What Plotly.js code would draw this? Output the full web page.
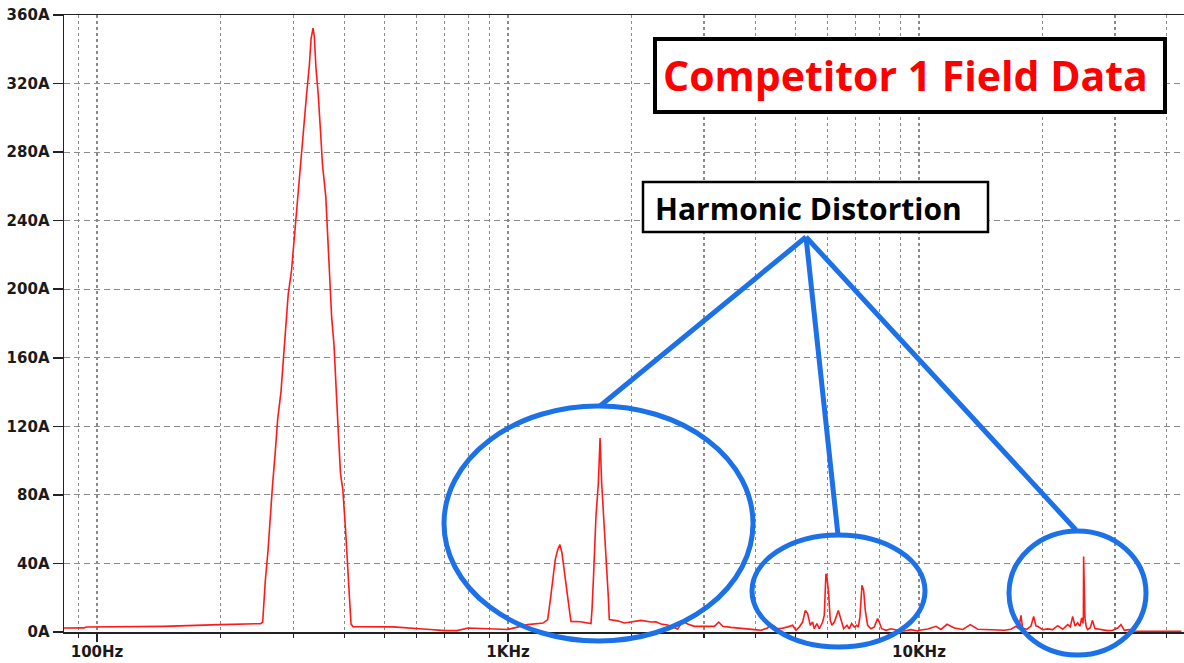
<!DOCTYPE html>
<html>
<head>
<meta charset="utf-8">
<script src="https://cdn.plot.ly/plotly-3.0.1.min.js"></script>
<style>html,body{margin:0;padding:0;background:#fff;}#chart{width:1184px;height:663px;}</style>
</head>
<body>
<div id="chart"></div>
<script>
// Frequency (Hz) and current amplitude (A)
const freqHz = [
  83, 93, 94, 145, 199, 250,
  253.0, 256.7, 260.5, 263.9, 267.3, 271.2, 275.2, 280.3, 283.9, 287.6, 291.9, 297.3, 301.7, 305.6, 309.5, 314.1, 318.8, 323.4, 328.8, 331.8, 335.5,
  337.9, 341.0, 345.5, 350.6, 353.8, 360.3, 365.0, 369.1, 372.4, 377.3, 382.1, 386.3, 391.3, 396.4, 402.3, 405.9, 411.2, 415.0,
  420, 525, 634, 703, 751, 800, 1000, 1117, 1217,
  1249, 1268, 1284, 1303, 1321, 1338, 1353, 1371, 1392, 1410, 1423, 1500, 1592,
  1601, 1616, 1637, 1659, 1675, 1690, 1709, 1731, 1754, 1764,
  1849, 1919, 2018, 2107, 2228, 2292, 2357, 2446, 2587, 2661, 2736, 2840, 3015, 3177, 3256, 3330, 3488, 3689, 3975,
  4127, 4283, 4346, 4420, 4520, 4615, 4800, 4927, 5020, 5114, 5210, 5289, 5358, 5439, 5510, 5562, 5645, 5720, 5828, 5882,
  5937, 5971, 6027, 6083, 6140, 6223, 6364, 6460, 6557, 6679, 6767, 6856, 6960, 7052, 7117, 7183, 7265, 7334, 7402, 7499,
  7640, 7784, 7930, 8005, 8111, 8313, 8550, 8873, 9211, 9562, 9926,
  10113, 10498, 11000, 11311, 11700, 12190, 12775, 13335, 13895, 14694, 15395, 16129, 16740, 17218, 17477, 17706, 17870,
  18311, 18726, 19011, 19262, 19440, 19991, 20560, 21144, 21751, 22370, 23002, 23348, 23652, 23965, 24325, 24641, 24874,
  25058, 25120, 25150, 25200, 25280, 25340, 25527, 25717, 26100, 26441, 26790, 27194, 27967, 28765, 29594, 30442, 31012,
  31597, 32490, 33416, 34688, 36688, 38800, 41034, 43500
];
const ampA = [
  2.3, 2.4, 2.9, 3.3, 4.3, 4.9,
  5.7, 29.6, 46.7, 67.2, 85.4, 103.6, 124.2, 140.1, 158.3, 178.8, 197.0, 210.7, 228.9, 244.9, 263.1, 279.1, 295.0, 313.2, 331.4, 346.3, 352.4,
  347.4, 329.2, 313.2, 288.2, 272.2, 254.0, 228.9, 208.4, 183.4, 167.4, 137.8, 117.3, 92.3, 83.1, 60.4, 42.1, 23.9, 4.6,
  3.1, 3.0, 1.6, 0.8, 0.8, 2.3, 1.5, 4.3, 5.2,
  7.2, 18.9, 30.5, 42.2, 48.0, 51.0, 46.1, 34.4, 20.8, 13.0, 6.2, 6.0, 4.9,
  13.0, 34.4, 67.5, 86.9, 113.2, 86.9, 67.5, 50.0, 20.8, 7.2,
  6.5, 5.3, 6.2, 6.8, 5.8, 6.0, 4.7, 4.1, 1.75, 6.2, 4.7, 3.3, 3.3, 3.3, 5.8, 3.3, 2.7, 2.3, 1.4,
  1.0, 2.3, 4.5, 3.8, 2.0, 2.0, 3.0, 3.9, 1.0, 2.9, 5.8, 12.6, 10.7, 3.9, 5.8, 1.9, 4.9, 1.9, 5.8, 9.7,
  34.0, 32.1, 22.4, 6.8, 3.9, 5.8, 12.6, 6.8, 1.9, 3.9, 1.9, 4.9, 2.9, 3.9, 2.9, 8.8, 27.2, 24.3, 12.6, 3.9,
  1.9, 2.9, 7.8, 5.8, 1.9, 1.0, 1.9, 1.0, 0.6, 1.4, 0.6,
  1.2, 1.8, 3.3, 1.5, 4.5, 2.3, 1.5, 4.3, 1.6, 1.4, 1.0, 1.0, 1.6, 3.3, 2.0, 9.7, 2.3,
  1.5, 3.5, 9.1, 3.5, 3.3, 1.3, 1.8, 1.4, 3.7, 1.6, 4.3, 3.0, 9.1, 3.5, 5.3, 3.3, 8.2,
  5.0, 10.0, 44.0, 26.0, 25.0, 8.0, 3.0, 1.4, 2.5, 6.8, 2.0, 1.8, 1.0, 0.8, 1.0, 2.3, 4.3,
  1.0, 1.4, 0.6, 0.4, 0.5, 0.4, 0.5, 0.4
];

const majorTickVals = [100, 1000, 10000];
const majorTickText = ['100Hz', '1KHz', '10KHz'];
const minorTickVals = [90, 200, 300, 400, 500, 600, 700, 800, 900,
  2000, 3000, 4000, 5000, 6000, 7000, 8000, 9000, 20000, 30000, 40000];
const yTickVals = [0, 40, 80, 120, 160, 200, 240, 280, 320, 360];
const yTickText = ['0A', '40A', '80A', '120A', '160A', '200A', '240A', '280A', '320A', '360A'];

const titleText = 'Competitor 1 Field Data';
const calloutText = 'Harmonic Distortion';

// plot area geometry (pixels)
const W = 1184, H = 663, L = 64, T = 15, B = 31, R = 0;
const pw = W - L - R, ph = H - T - B;
const px = x => (x - L) / pw;
const py = y => (H - B - y) / ph;

const blue = 'rgb(28,112,232)';
const axisFont = {family: 'DejaVu Sans', size: 15, color: '#1a1a1a'};
const bold = s => '<b>' + s + '</b>';

const trace = {
  x: freqHz, y: ampA, type: 'scatter', mode: 'lines',
  line: {color: '#ff1a1a', width: 1.6}, hoverinfo: 'skip'
};

const layout = {
  width: W, height: H,
  margin: {l: L, r: R, t: T, b: B, pad: 0},
  paper_bgcolor: '#ffffff', plot_bgcolor: '#ffffff',
  showlegend: false,
  xaxis: {
    type: 'log', range: [1.9197, 4.6448],
    tickmode: 'array', tickvals: majorTickVals, ticktext: majorTickText.map(bold),
    ticks: 'outside', ticklen: 8, tickwidth: 1.5, tickcolor: '#222',
    tickfont: axisFont, ticklabelstandoff: -3,
    showline: true, linecolor: '#222', linewidth: 1.5, mirror: true,
    showgrid: true, gridcolor: '#8a8a8a', gridwidth: 1.2, griddash: '3px,3px',
    minor: {tickmode: 'array', tickvals: minorTickVals, ticks: 'outside', ticklen: 4, tickwidth: 1.2, tickcolor: '#222',
            showgrid: true, gridcolor: '#8a8a8a', gridwidth: 1.2, griddash: '3px,3px'},
    zeroline: false, fixedrange: true
  },
  yaxis: {
    range: [0, 360], tickmode: 'array', tickvals: yTickVals, ticktext: yTickText.map(bold),
    ticks: 'outside', ticklen: 10, tickwidth: 1.5, tickcolor: '#222',
    tickfont: axisFont,
    showline: true, linecolor: '#222', linewidth: 1.5,
    showgrid: true, gridcolor: '#8a8a8a', gridwidth: 1.2, griddash: '6px,4px',
    zeroline: false, fixedrange: true
  },
  shapes: [
    {type: 'rect', xref: 'paper', yref: 'paper', x0: px(655), x1: px(1165), y0: py(112), y1: py(39),
     line: {color: '#000', width: 4}, fillcolor: '#ffffff', layer: 'above'},
    {type: 'rect', xref: 'paper', yref: 'paper', x0: px(643), x1: px(988), y0: py(232), y1: py(182),
     line: {color: '#000', width: 2.5}, fillcolor: '#ffffff', layer: 'above'},
    {type: 'line', xref: 'paper', yref: 'paper', x0: px(806), y0: py(237), x1: px(600), y1: py(406),
     line: {color: blue, width: 5}, layer: 'above'},
    {type: 'line', xref: 'paper', yref: 'paper', x0: px(806), y0: py(237), x1: px(838), y1: py(535),
     line: {color: blue, width: 5}, layer: 'above'},
    {type: 'line', xref: 'paper', yref: 'paper', x0: px(806), y0: py(237), x1: px(1076), y1: py(530),
     line: {color: blue, width: 5}, layer: 'above'},
    {type: 'circle', xref: 'paper', yref: 'paper', x0: px(444), x1: px(753), y0: py(641), y1: py(406),
     line: {color: blue, width: 5}, layer: 'above'},
    {type: 'circle', xref: 'paper', yref: 'paper', x0: px(752), x1: px(925), y0: py(647), y1: py(535),
     line: {color: blue, width: 5}, layer: 'above'},
    {type: 'circle', xref: 'paper', yref: 'paper', x0: px(1009), x1: px(1146), y0: py(655), y1: py(531),
     line: {color: blue, width: 5}, layer: 'above'}
  ],
  annotations: [
    {xref: 'paper', yref: 'paper', x: px(905), y: py(75), xanchor: 'center', yanchor: 'middle', showarrow: false,
     text: titleText, font: {family: 'Open Sans', size: 41, weight: 'bold', color: '#ff0000'}},
    {xref: 'paper', yref: 'paper', x: px(808), y: py(208), xanchor: 'center', yanchor: 'middle', showarrow: false,
     text: calloutText, font: {family: 'Open Sans', size: 30, weight: 'bold', color: '#000000'}}
  ]
};

Plotly.newPlot('chart', [trace], layout, {staticPlot: true, displayModeBar: false});
</script>
</body>
</html>
